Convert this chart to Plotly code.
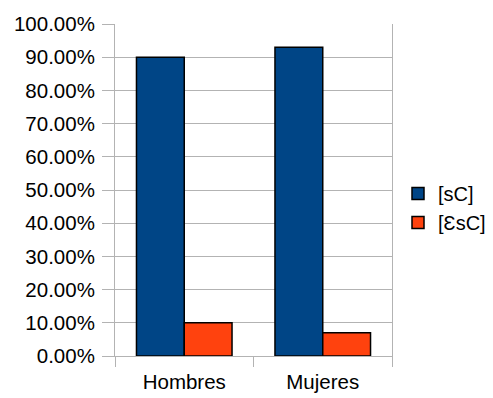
import plotly.graph_objects as go

categories = ["Hombres", "Mujeres"]
series_names = ["[sC]", "[ƐsC]"]
sc_values = [0.90, 0.93]
esc_values = [0.10, 0.07]
y_ticks = [i / 10 for i in range(11)]
y_tick_labels = [f"{v * 100:.2f}%" for v in y_ticks]

colors = ["#004586", "#ff420e"]
font_family = "Liberation Sans, Arial, sans-serif"

fig = go.Figure()
for name, vals, col in zip(series_names, [sc_values, esc_values], colors):
    fig.add_trace(go.Bar(
        x=categories, y=vals, name=name,
        marker=dict(color=col, line=dict(color="#000000", width=1.5)),
    ))

fig.update_layout(
    width=493, height=398,
    margin=dict(l=115, r=101, t=24, b=42, autoexpand=False),
    paper_bgcolor="white", plot_bgcolor="white",
    barmode="group", bargap=0.31, bargroupgap=0,
    font=dict(family=font_family, size=20.5, color="#000000"),
    showlegend=True,
    legend=dict(
        xref="container", yref="container",
        x=398 / 493, y=1 - 208 / 398, xanchor="left", yanchor="middle",
        font=dict(size=20), bgcolor="rgba(0,0,0,0)",
        itemwidth=30, tracegroupgap=0,
    ),
)
fig.update_yaxes(
    range=[0, 1], tickvals=y_ticks, ticktext=y_tick_labels,
    showgrid=True, gridcolor="#b3b3b3", gridwidth=1,
    showline=True, linecolor="#b3b3b3", linewidth=1, mirror=True,
    ticks="outside", ticklen=12, tickcolor="#b3b3b3",
    ticklabelstandoff=3,
    zeroline=False, automargin=False,
)
fig.update_xaxes(
    showline=True, linecolor="#b3b3b3", linewidth=1,
    ticks="outside", tickson="boundaries", ticklen=10, tickcolor="#b3b3b3",
    showgrid=False, ticklabelstandoff=7, automargin=False,
)

fig.write_html("out.html")
